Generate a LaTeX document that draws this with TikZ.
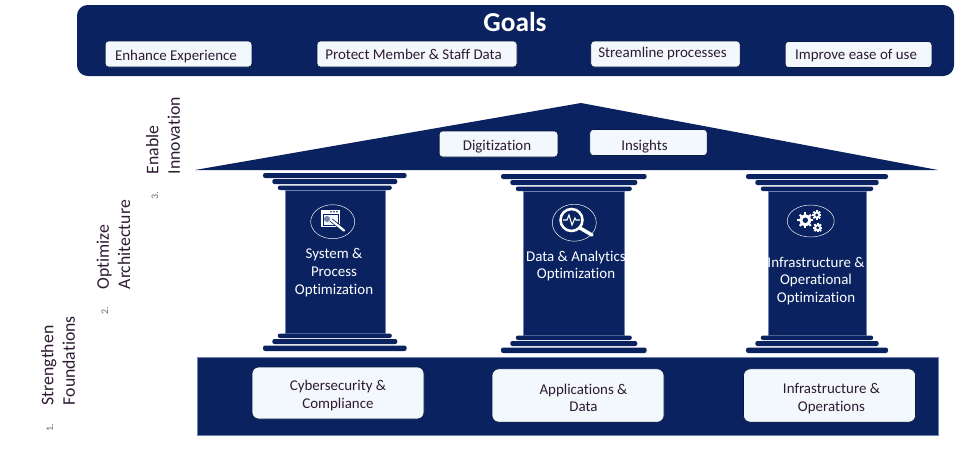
\documentclass[tikz,border=0pt]{standalone}
\usepackage{fontspec}
\setmainfont[Ligatures=NoCommon]{Carlito}
\usetikzlibrary{positioning,shapes.geometric}
\definecolor{navy}{HTML}{0B2260}
\definecolor{navyedge}{HTML}{6F83AE}
\definecolor{boxbg}{HTML}{F3F8FC}
\definecolor{ink}{HTML}{2E1A33}
\definecolor{numc}{HTML}{6B6B6B}
\tikzset{
  band/.style={fill=navy,rounded corners=8pt},
  block/.style={fill=navy,draw=navyedge,line width=0.3pt},
  bar/.style={fill=navy,rounded corners=1.6pt},
  goalbox/.style={draw=navy!70!black,line width=0.5pt,fill=boxbg,rounded corners=2.5pt,
    inner sep=0pt,minimum height=19.5pt},
  basebox/.style={goalbox,rounded corners=5pt,minimum width=129pt,minimum height=39pt},
  boxtxt/.style={align=center,inner sep=0pt,text=ink,font=\fontsize{11.2}{13.2}\selectfont},
  pillartxt/.style={boxtxt,text=white},
  sidetxt/.style={rotate=90,anchor=west,align=left,inner sep=0pt,text=ink,font=\fontsize{13.3}{16}\selectfont},
  numtxt/.style={rotate=90,inner sep=0pt,text=numc,font=\fontsize{7.5}{8}\selectfont},
  halo/.style={draw=white,line width=0.35pt},
}
\newcommand{\gearicon}[3]{%
  \foreach \a in {0,45,...,315}{\draw[white,line width=1.5pt] (#1,#2)++(\a:#3*0.7)--++(\a:#3*0.35);}
  \fill[white] (#1,#2) circle (#3*0.78);
  \fill[navy] (#1,#2) circle (#3*0.36);
}
\begin{document}
\begin{tikzpicture}[x=0.75pt,y=-0.75pt]
  \useasboundingbox (0,0) rectangle (965,469);
  % goals band
  \fill[band] (77,5) rectangle (954,76);
  \node[text=white,inner sep=0pt,font=\fontsize{20.5}{21}\bfseries\selectfont] (goals) at (515,22) {Goals};
  \node[goalbox,minimum width=110pt] (enhance) at (178.5,54) {};
  \node[goalbox,minimum width=150pt] (protect) at (417,54) {};
  \node[goalbox,minimum width=112pt] (stream) at (665.5,54) {};
  \node[goalbox,minimum width=110pt] (improve) at (858.5,54.5) {};
  \node[boxtxt] (enhancet) at (176,57) {Enhance Experience};
  \node[boxtxt] (protectt) at (413.5,54.5) {Protect Member \& Staff Data};
  \node[boxtxt] (streamt) at (662.5,54) {Streamline processes};
  \node[boxtxt] (improvet) at (856,56) {Improve ease of use};
  % roof
  \fill[navy] (195,170) -- (581,103) -- (938,170) -- cycle;
  \node[goalbox,minimum width=89pt] (digit) at (498.5,144) {};
  \node[goalbox,minimum width=88pt] (insight) at (648.5,142.5) {};
  \node[boxtxt] (digitt) at (497,146.5) {Digitization};
  \node[boxtxt] (insightt) at (644.5,146.5) {Insights};
  % pillars
  \foreach \c/\hw/\bw/\ytop/\ybot in {334.8/71.8/50/173/351,573.8/72.8/50.6/174/353,817/71/49/174/353}{
    \fill[bar] (\c-\hw,\ytop) rectangle (\c+\hw,\ytop+5);
    \fill[bar] (\c-\hw+9.3,\ytop+6) rectangle (\c+\hw-9.3,\ytop+11);
    \fill[bar] (\c-\hw+14.8,\ytop+12.5) rectangle (\c+\hw-14.8,\ytop+17);
    \draw[block] (\c-\bw,\ytop+17.5) rectangle (\c+\bw,\ybot-18);
    \fill[bar] (\c-\hw+14.8,\ybot-17.5) rectangle (\c+\hw-14.8,\ybot-13);
    \fill[bar] (\c-\hw+9.3,\ybot-12) rectangle (\c+\hw-9.3,\ybot-7);
    \fill[bar] (\c-\hw,\ybot-5.5) rectangle (\c+\hw,\ybot);
  }
  % icons
  \draw[halo] (332.7,221.7) ellipse (22 and 17);
  \fill[white] (321,210) rectangle (340,227);
  \fill[navy] (322.5,213.5) rectangle (338.5,225.5);
  \fill[boxbg] (323.5,214.5) rectangle (337.5,224.5);
  \foreach \i in {331,334,337}{\fill[navy] (\i,211.7) circle (0.9);}
  \fill[navyedge] (327,219) circle (3);
  \draw[navy,line width=2.8pt] (331,220) -- (345,231);
  \draw[white,line width=1.7pt,line cap=round] (331,220) -- (344,230.5);
  \draw[halo] (574.3,222.7) ellipse (22 and 18.5);
  \draw[white,line width=1.9pt] (571.5,220) circle (11);
  \draw[white,line width=2.6pt,line cap=round] (580,228) -- (592,235);
  \draw[white,line width=0.8pt] (563,220) -- (567,220) -- (569,215) -- (572,225) -- (575,218) -- (576,220) -- (580,220);
  \draw[halo] (810.7,221) ellipse (23.5 and 16);
  \gearicon{805.3}{220.3}{7.5}
  \gearicon{816.7}{215}{4.5}
  \gearicon{817.7}{227.7}{4.5}
  % pillar names
  \node[pillartxt] (sys) at (334,272.5) {System \&\\Process\\Optimization};
  \node[pillartxt] (data) at (576,266) {Data \& Analytics\\Optimization};
  \node[pillartxt] (infra) at (816,281) {Infrastructure \&\\Operational\\Optimization};
  % base
  \draw[block] (197,357) rectangle (938,435);
  \node[basebox] (cyber) at (338,393) {};
  \node[basebox,minimum height=40pt] (apps) at (578,395.5) {};
  \node[basebox,minimum height=40pt] (ops) at (829.5,395.5) {};
  \node[boxtxt] (cybert) at (338,395.5) {Cybersecurity \&\\Compliance};
  \node[boxtxt] (appst) at (583.5,398) {Applications \&\\Data};
  \node[boxtxt] (opst) at (831.5,398.5) {Infrastructure \&\\Operations};
  % side labels
  \node[sidetxt] (enable) at (163,174.5) {Enable\\Innovation};
  \node[numtxt] (n3) at (155,196) {3.};
  \node[sidetxt] (optimize) at (113.5,289.5) {Optimize\\Architecture};
  \node[numtxt] (n2) at (105,311) {2.};
  \node[sidetxt] (strength) at (58,405.5) {Strengthen\\Foundations};
  \node[numtxt] (n1) at (50,428) {1.};
\end{tikzpicture}
\end{document}
